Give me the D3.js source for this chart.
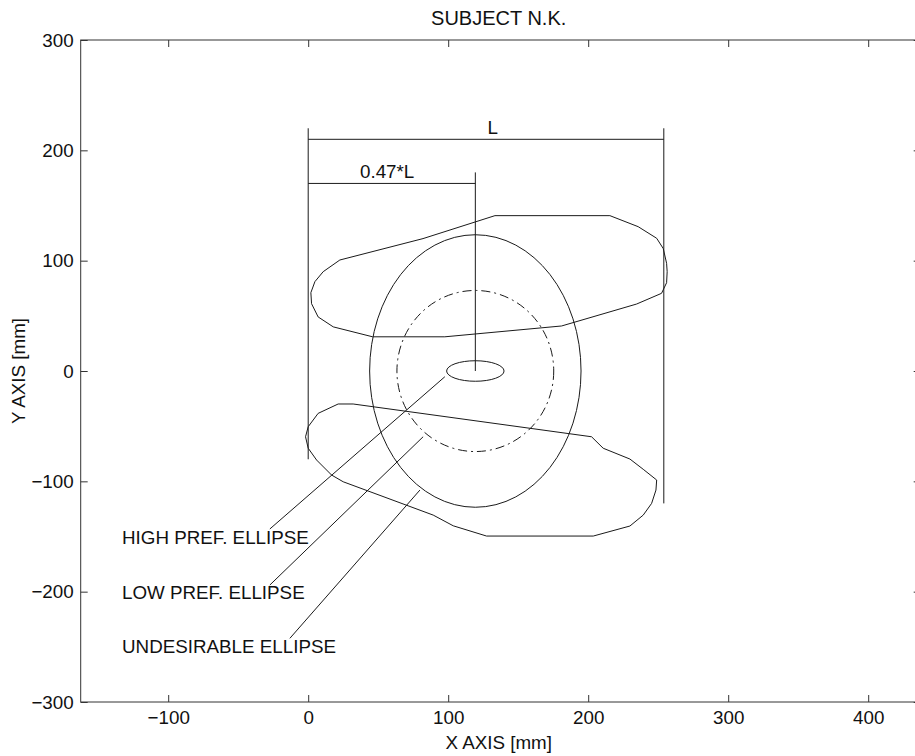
<!DOCTYPE html>
<html>
<head>
<meta charset="utf-8">
<script src="https://cdn.jsdelivr.net/npm/d3@7"></script>
<style>
  html, body { margin: 0; padding: 0; background: #fff; }
  svg { display: block; }
  text { font-family: "Liberation Sans", Arial, Helvetica, sans-serif; fill: #111; }
</style>
</head>
<body>
<svg id="chart" width="915" height="756"></svg>
<script>
// ---------- data ----------
const title = "SUBJECT N.K.";
const xLabel = "X AXIS [mm]";
const yLabel = "Y AXIS [mm]";
const xDomain = [-162.5, 437.5];
const yDomain = [-300, 300];
const xTicks = [-100, 0, 100, 200, 300, 400];
const yTicks = [-300, -200, -100, 0, 100, 200, 300];

const L = 254;                 // total length
const ratio = 0.47;            // 0.47*L
const cx = ratio * L;          // ellipse centre x
const cy = 0;

// ellipses
const ellipseNames = ["HIGH PREF. ELLIPSE", "LOW PREF. ELLIPSE", "UNDESIRABLE ELLIPSE"];
const ellipseRx = [20.5, 56, 75.5];
const ellipseRy = [9.3, 73, 123.5];

// upper region outline
const upperBlob = [
  [1.9, 71], [4.8, 81], [10.7, 90], [22.6, 100.6], [82, 120], [133.4, 140.8],
  [215.5, 140.8], [235.7, 130.8], [248.9, 120.3], [253.6, 111], [256, 97.6],
  [256.4, 90], [256, 80], [252.4, 70.4], [234.6, 60.7], [181, 40.8],
  [97.6, 31], [46, 31], [17.9, 40], [7.1, 49], [2.4, 61]
];
// lower region outline
const lowerBlob = [
  [21.4, -29.9], [32.1, -29.9], [202.4, -59.6], [210.7, -70], [229.8, -79.8],
  [239.3, -89.1], [248.9, -98.8], [248.4, -107.9], [245.3, -120], [239.3, -130.6],
  [229.8, -140.5], [203.6, -149.6], [127.4, -149.6], [103.6, -140.3], [89.3, -130.6],
  [25, -100.4], [16.7, -94.3], [6, -80.7], [0, -70], [-1.9, -59.6], [0, -50.5], [7.1, -38.4]
];

// leader lines [x1,y1,x2,y2]
const leaders = [
  [-27.4, -143.2, 97.6, -5.2],
  [-27.4, -194, 82.1, -59.6],
  [-13.1, -242.3, 79.8, -107.9]
];
const labelPos = [[-133, -151], [-133, -201], [-133, -250]];

// dimension lines
const dimTop = 220;
const lineL_y = 210;
const line047_y = 170;
const centreTop = 180;
const leftGuideBottom = -80;
const rightGuideBottom = -120;

// ---------- drawing ----------
const svg = d3.select("#chart");
const plot = { left: 80.7, right: 920.7, top: 40, bottom: 702 };
const x = d3.scaleLinear().domain(xDomain).range([plot.left, plot.right]);
const y = d3.scaleLinear().domain(yDomain).range([plot.bottom, plot.top]);

const ink = "#1a1a1a";
const fontSize = 18.8;
const fam = "Liberation Sans, Arial, sans-serif";

// axes box
svg.append("rect")
  .attr("x", plot.left).attr("y", plot.top)
  .attr("width", plot.right - plot.left).attr("height", plot.bottom - plot.top)
  .attr("fill", "none").attr("stroke", "#333").attr("stroke-width", 1);

const fmt = d => d < 0 ? "\u2212" + Math.abs(d) : d;

// bottom axis (inward ticks)
const gx = svg.append("g").attr("transform", `translate(0,${plot.bottom})`)
  .call(d3.axisBottom(x).tickValues(xTicks).tickSizeInner(-7).tickSizeOuter(0).tickFormat(fmt));
gx.select(".domain").remove();
gx.selectAll("line").attr("stroke", "#333");
gx.selectAll("text").attr("font-size", fontSize).attr("y", 9).attr("dy", "0.71em")
  .attr("font-family", fam).attr("fill", ink);

// top axis ticks
const gxt = svg.append("g").attr("transform", `translate(0,${plot.top})`)
  .call(d3.axisTop(x).tickValues(xTicks).tickSizeInner(-7).tickSizeOuter(0).tickFormat(""));
gxt.select(".domain").remove();
gxt.selectAll("line").attr("stroke", "#333");

// left axis
const gy = svg.append("g").attr("transform", `translate(${plot.left},0)`)
  .call(d3.axisLeft(y).tickValues(yTicks).tickSizeInner(-7).tickSizeOuter(0).tickFormat(fmt));
gy.select(".domain").remove();
gy.selectAll("line").attr("stroke", "#333");
gy.selectAll("text").attr("font-size", fontSize).attr("x", -7)
  .attr("font-family", fam).attr("fill", ink);

// right axis ticks
const gyr = svg.append("g").attr("transform", `translate(${plot.right},0)`)
  .call(d3.axisRight(y).tickValues(yTicks).tickSizeInner(-7).tickSizeOuter(0).tickFormat(""));
gyr.select(".domain").remove();
gyr.selectAll("line").attr("stroke", "#333");

// title and axis labels
svg.append("text").attr("x", (plot.left + plot.right) / 2 - 2).attr("y", 25)
  .attr("text-anchor", "middle").attr("font-size", 20).text(title);
svg.append("text").attr("x", (plot.left + plot.right) / 2 - 2).attr("y", 749)
  .attr("text-anchor", "middle").attr("font-size", fontSize).text(xLabel);
svg.append("text").attr("transform", `translate(25,${(plot.top + plot.bottom) / 2}) rotate(-90)`)
  .attr("text-anchor", "middle").attr("font-size", fontSize).text(yLabel);

const g = svg.append("g").attr("fill", "none").attr("stroke", ink).attr("stroke-width", 1);
const seg = (x1, y1, x2, y2) => g.append("line")
  .attr("x1", x(x1)).attr("y1", y(y1)).attr("x2", x(x2)).attr("y2", y(y2));

// vertical guides
seg(0, dimTop, 0, leftGuideBottom);
seg(L, dimTop, L, rightGuideBottom);
// L dimension line
seg(0, lineL_y, L, lineL_y);
// 0.47*L line and centre line
seg(0, line047_y, cx, line047_y);
seg(cx, centreTop, cx, cy);

// region outlines
const lineGen = d3.line().x(d => x(d[0])).y(d => y(d[1])).curve(d3.curveLinearClosed);
g.append("path").attr("d", lineGen(upperBlob));
g.append("path").attr("d", lineGen(lowerBlob));

// ellipses
ellipseNames.forEach((name, i) => {
  const e = g.append("ellipse")
    .attr("cx", x(cx)).attr("cy", y(cy))
    .attr("rx", x(cx + ellipseRx[i]) - x(cx))
    .attr("ry", y(cy) - y(cy + ellipseRy[i]));
  if (i === 1) e.attr("stroke-dasharray", "9,4,2,4");
});

// leader lines
leaders.forEach(l => seg(l[0], l[1], l[2], l[3]));

// labels
const txt = svg.append("g").attr("font-size", fontSize);
ellipseNames.forEach((name, i) => {
  txt.append("text").attr("x", x(labelPos[i][0])).attr("y", y(labelPos[i][1]))
    .attr("dy", "0.35em").text(name);
});
txt.append("text").attr("x", x(L / 2 + 1)).attr("y", y(lineL_y) - 5).text("L");
txt.append("text").attr("x", x(37)).attr("y", y(line047_y) - 5).text("0.47*L");
</script>
</body>
</html>
